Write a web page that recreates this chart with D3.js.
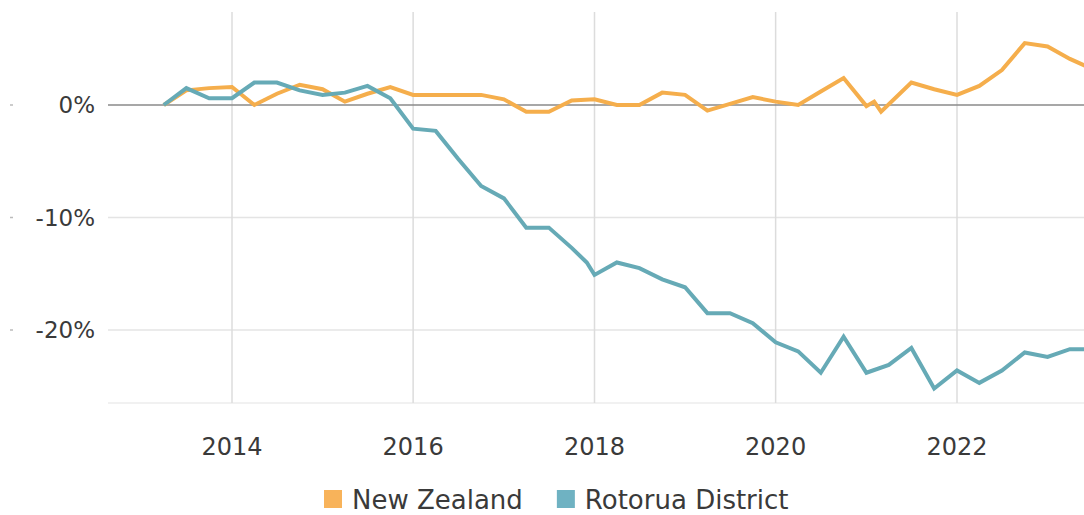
<!DOCTYPE html>
<html>
<head>
<meta charset="utf-8">
<script src="https://cdn.jsdelivr.net/npm/d3@7"></script>
<style>
  body { margin: 0; background: #fff; }
  text { font-family: "DejaVu Sans", Lato, sans-serif; fill: #3a3a3a; }
</style>
</head>
<body>
<div id="chart"></div>
<script>
// data (quarter ends, % change since first quarter)
var nzDates = ["2013-03","2013-06","2013-09","2013-12","2014-03","2014-06","2014-09","2014-12",
  "2015-03","2015-06","2015-09","2015-12","2016-03","2016-06","2016-09","2016-12",
  "2017-03","2017-06","2017-09","2017-12","2018-03","2018-06","2018-09","2018-12",
  "2019-03","2019-06","2019-09","2019-12","2020-03","2020-06","2020-09","2020-12",
  "2021-01","2021-02","2021-06","2021-09","2021-12","2022-03","2022-06","2022-09",
  "2022-12","2023-03","2023-06"];
var nzValues = [0, 1.3, 1.5, 1.6, 0.0, 1.0, 1.8, 1.4,
  0.3, 1.0, 1.6, 0.9, 0.9, 0.9, 0.9, 0.5,
  -0.6, -0.6, 0.4, 0.5, 0.0, 0.0, 1.1, 0.9,
  -0.5, 0.1, 0.7, 0.3, 0.0, 1.2, 2.4, -0.1,
  0.3, -0.6, 2.0, 1.4, 0.9, 1.7, 3.1, 5.5,
  5.2, 4.1, 3.2];

var rotDates = ["2013-03","2013-06","2013-09","2013-12","2014-03","2014-06","2014-09","2014-12",
  "2015-03","2015-06","2015-09","2015-12","2016-03","2016-06","2016-09","2016-12",
  "2017-03","2017-06","2017-09","2017-11","2017-12","2018-03","2018-06","2018-09","2018-12",
  "2019-03","2019-06","2019-09","2019-12","2020-03","2020-06","2020-09","2020-12",
  "2021-03","2021-06","2021-09","2021-12","2022-03","2022-06","2022-09","2022-12",
  "2023-03","2023-06"];
var rotValues = [0, 1.5, 0.6, 0.6, 2.0, 2.0, 1.3, 0.9,
  1.1, 1.7, 0.6, -2.1, -2.3, -4.8, -7.2, -8.3,
  -10.9, -10.9, -12.7, -14.0, -15.1, -14.0, -14.5, -15.5, -16.2,
  -18.5, -18.5, -19.4, -21.1, -21.9, -23.8, -20.6, -23.8,
  -23.1, -21.6, -25.2, -23.6, -24.7, -23.6, -22.0, -22.4,
  -21.7, -21.7];

var yTicks = [0, -10, -20];
var xTicks = [2014, 2016, 2018, 2020, 2022];
var seriesNames = ["New Zealand", "Rotorua District"];
var colors = ["#f5ae4c", "#66aab6"];
var swatchColors = ["#f8b35a", "#6fb2c2"];

var width = 1084, height = 515;
var plot = {left: 108, top: 12, bottom: 403};

var svg = d3.select("#chart").append("svg")
    .attr("width", width)
    .attr("height", height);

var parse = d3.timeParse("%Y-%m");
// value stands for the end of the month
function monthEnd(s) { return d3.timeMonth.offset(parse(s), 1); }

// x scale anchored on the 2014 and 2022 gridlines
var x = d3.scaleTime()
    .domain([new Date(2014, 0, 1), new Date(2022, 0, 1)])
    .range([232, 957]);

var y = d3.scaleLinear()
    .domain([0, -20])
    .range([105, 330]);

// horizontal gridlines
svg.append("g")
    .selectAll("line")
    .data(yTicks.slice(1))
    .enter().append("line")
    .attr("x1", plot.left).attr("x2", width)
    .attr("y1", d => y(d)).attr("y2", d => y(d))
    .attr("stroke", "#e4e4e4")
    .attr("stroke-width", 1.5);

svg.append("line")
    .attr("x1", plot.left).attr("x2", width)
    .attr("y1", plot.bottom).attr("y2", plot.bottom)
    .attr("stroke", "#ececec")
    .attr("stroke-width", 1.5);

// vertical gridlines
svg.append("g")
    .selectAll("line")
    .data(xTicks)
    .enter().append("line")
    .attr("x1", d => x(new Date(d, 0, 1))).attr("x2", d => x(new Date(d, 0, 1)))
    .attr("y1", plot.top).attr("y2", plot.bottom)
    .attr("stroke", "#dcdcdc")
    .attr("stroke-width", 1.5);

// zero line
svg.append("line")
    .attr("x1", plot.left).attr("x2", width)
    .attr("y1", y(0)).attr("y2", y(0))
    .attr("stroke", "#8a8a8a")
    .attr("stroke-width", 1.5);

// y labels
var yl = svg.append("g")
    .selectAll("g")
    .data(yTicks)
    .enter().append("g");
yl.append("text")
    .attr("x", 95)
    .attr("y", d => y(d))
    .attr("dy", "0.36em")
    .attr("text-anchor", "end")
    .style("font-size", "23px")
    .text(d => d + "%");
yl.append("line")
    .attr("x1", 10).attr("x2", 13)
    .attr("y1", d => y(d)).attr("y2", d => y(d))
    .attr("stroke", "#bbb")
    .attr("stroke-width", 1.5);

// x labels
svg.append("g")
    .selectAll("text")
    .data(xTicks)
    .enter().append("text")
    .attr("x", d => x(new Date(d, 0, 1)))
    .attr("y", 455)
    .attr("text-anchor", "middle")
    .style("font-size", "24px")
    .text(d => d);

// lines
var line = d3.line()
    .x(d => x(d.date))
    .y(d => y(d.value));

var series = [
    nzDates.map((d, i) => ({date: monthEnd(d), value: nzValues[i]})),
    rotDates.map((d, i) => ({date: monthEnd(d), value: rotValues[i]}))
];

svg.append("g")
    .selectAll("path")
    .data(series)
    .enter().append("path")
    .attr("d", line)
    .attr("fill", "none")
    .attr("stroke", (d, i) => colors[i])
    .attr("stroke-width", 4)
    .attr("stroke-linejoin", "miter")
    .attr("stroke-linecap", "butt");

// legend
var legend = svg.append("g");
var lx = 324;
seriesNames.forEach(function (name, i) {
    legend.append("rect")
        .attr("x", lx).attr("y", 490)
        .attr("width", 18).attr("height", 18)
        .attr("fill", swatchColors[i]);
    var t = legend.append("text")
        .attr("x", lx + 28)
        .attr("y", 509)
        .style("font-size", "26px")
        .text(name);
    lx += 28 + t.node().getComputedTextLength() + 34;
});
</script>
</body>
</html>
